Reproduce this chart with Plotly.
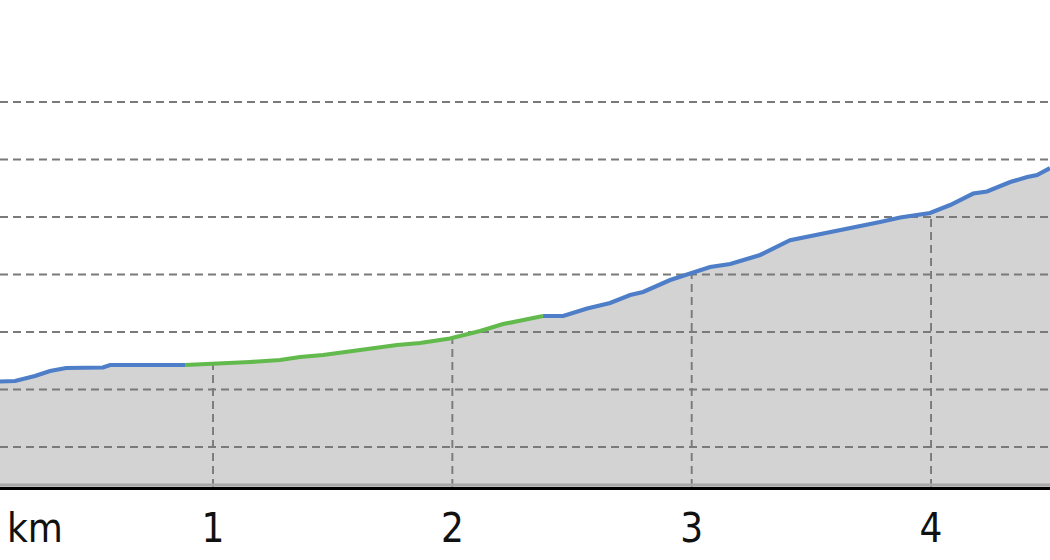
import numpy as np
import plotly.graph_objects as go

# ---- data ----
dist_km = [0.110, 0.173, 0.256, 0.319, 0.386, 0.540, 0.570, 0.883,
           0.988, 1.155, 1.280, 1.364, 1.460, 1.573, 1.669, 1.769, 1.865,
           1.990, 2.116, 2.212, 2.379,
           2.463, 2.563, 2.659, 2.743, 2.797, 2.910, 2.993, 3.077, 3.161,
           3.286, 3.411, 3.524, 3.662, 3.787, 3.871, 3.955, 3.996, 4.080,
           4.176, 4.234, 4.331, 4.402, 4.443, 4.497]
elev_m = [121.39, 121.47, 122.34, 123.21, 123.74, 123.82, 124.26, 124.26,
          124.43, 124.78, 125.13, 125.65, 126.00, 126.69, 127.21, 127.74, 128.08,
          128.87, 130.17, 131.39, 132.78,
          132.78, 134.08, 135.04, 136.43, 136.95, 139.04, 140.08, 141.30, 141.82,
          143.39, 145.96, 146.87, 148.08, 149.13, 149.91, 150.34, 150.69, 152.08,
          154.08, 154.43, 156.08, 156.95, 157.30, 158.52]
green_from_km = 0.883
green_to_km = 2.379
x_tick_vals = [0.256, 1, 2, 3, 4]
x_tick_text = ["km", "1", "2", "3", "4"]
elev_grid = [110, 120, 130, 140, 150, 160, 170]
elev_base = 103.04
elev_top = 178.0

BLUE = "#4e7ec8"
GREEN = "#62b94c"
GRID = "#7a7a7a"
FONT = "DejaVu Sans Condensed, DejaVu Sans"

d = np.array(dist_km)
e = np.array(elev_m)

fig = go.Figure()

# gray area under the profile
fig.add_trace(go.Scatter(x=d, y=e, mode="lines", line=dict(width=0),
                         fill="tozeroy", fillcolor="#d3d3d3",
                         hoverinfo="skip", showlegend=False))

# horizontal dashed grid lines (on top of the fill)
for g in elev_grid:
    fig.add_trace(go.Scatter(x=[d[0], d[-1]], y=[g, g], mode="lines",
                             line=dict(color=GRID, width=1.9, dash="8px,5px"),
                             hoverinfo="skip", showlegend=False))

# vertical dashed lines under the profile at each km
for k in x_tick_vals[1:]:
    fig.add_trace(go.Scatter(x=[k, k], y=[elev_base, float(np.interp(k, d, e))],
                             mode="lines",
                             line=dict(color=GRID, width=1.9, dash="8px,5px"),
                             hoverinfo="skip", showlegend=False))

# thin darker strip above the baseline
fig.add_trace(go.Scatter(x=[d[0], d[-1]], y=[elev_base + 0.35, elev_base + 0.35],
                         mode="lines", line=dict(color="#a8a8a8", width=3),
                         hoverinfo="skip", showlegend=False))

# profile line segments
i0 = int(np.where(np.isclose(d, green_from_km))[0][0])
i1 = int(np.where(np.isclose(d, green_to_km))[0][0])
segments = [(0, i0, BLUE), (i0, i1, GREEN), (i1, len(d) - 1, BLUE)]
for a, b, c in segments:
    fig.add_trace(go.Scatter(x=d[a:b + 1], y=e[a:b + 1], mode="lines",
                             line=dict(color=c, width=4.2),
                             hoverinfo="skip", showlegend=False))

fig.update_layout(
    width=1050, height=560,
    margin=dict(l=0, r=0, t=56, b=73),
    paper_bgcolor="white", plot_bgcolor="white",
    font=dict(family=FONT, color="#111111"),
    showlegend=False,
)
fig.update_xaxes(range=[d[0], d[-1]], showgrid=False, zeroline=False,
                 tickvals=x_tick_vals, ticktext=x_tick_text,
                 tickfont=dict(size=40, family=FONT, color="#111111"),
                 ticks="outside", ticklen=4, tickcolor="white",
                 showline=True, linecolor="black", linewidth=2.5)
fig.update_yaxes(range=[elev_base, elev_top], showgrid=False, zeroline=False,
                 showticklabels=False, showline=False)

fig.write_html("out.html", config={"displayModeBar": False},
               post_script="document.body.style.margin='0';document.body.style.overflow='hidden';")
